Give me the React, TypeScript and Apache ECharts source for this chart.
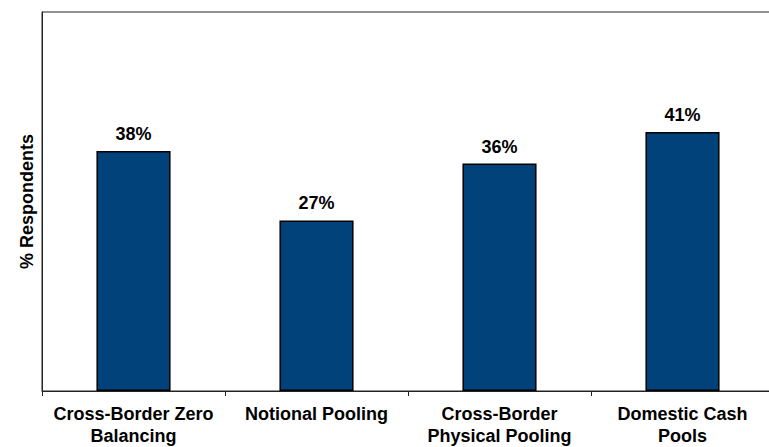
import React, { useEffect, useRef } from "react";
import * as echarts from "echarts";

const categories = [
  "Cross-Border Zero\nBalancing",
  "Notional Pooling",
  "Cross-Border\nPhysical Pooling",
  "Domestic Cash\nPools",
];
const respondents = [38, 27, 36, 41];
const yAxisTitle = "% Respondents";

const FONT = '"Liberation Sans", Arial, sans-serif';

export default function App() {
  const ref = useRef<HTMLDivElement>(null);

  useEffect(() => {
    if (!ref.current) return;
    const chart = echarts.init(ref.current, undefined, { renderer: "svg" });
    chart.setOption({
      animation: false,
      backgroundColor: "#ffffff",
      // the plot frame runs slightly past the visible right edge
      grid: {
        left: 42,
        top: 12,
        right: 6,
        bottom: 55,
        show: true,
        borderColor: "#222222",
        borderWidth: 1,
        backgroundColor: "transparent",
      },
      xAxis: {
        type: "category",
        data: categories,
        boundaryGap: true,
        axisLine: { show: true, lineStyle: { color: "#222222", width: 1 } },
        axisTick: { show: true, length: 5, alignWithLabel: false, lineStyle: { color: "#222222" } },
        axisLabel: {
          interval: 0,
          margin: 12,
          color: "#000000",
          fontFamily: FONT,
          fontWeight: "bold",
          fontSize: 18,
          lineHeight: 22,
          align: "center",
        },
      },
      yAxis: {
        type: "value",
        min: 0,
        max: 60,
        name: yAxisTitle,
        nameLocation: "middle",
        nameGap: 6,
        nameRotate: 90,
        nameTextStyle: {
          color: "#000000",
          fontFamily: FONT,
          fontWeight: "bold",
          fontSize: 18,
        },
        axisLine: { show: true, lineStyle: { color: "#222222", width: 1 } },
        axisTick: { show: false },
        axisLabel: { show: false },
        splitLine: { show: false },
      },
      series: [
        {
          type: "bar",
          data: respondents,
          barWidth: "40.5%",
          itemStyle: {
            color: "#02427A",
            borderColor: "#000000",
            borderWidth: 1.5,
          },
          label: {
            show: true,
            position: "top",
            distance: 8,
            formatter: "{c}%",
            color: "#000000",
            fontFamily: FONT,
            fontWeight: "bold",
            fontSize: 18,
          },
        },
      ],
    });
    return () => chart.dispose();
  }, []);

  return (
    <div
      style={{
        position: "absolute",
        left: 0,
        top: 0,
        width: 769,
        height: 447,
        overflow: "hidden",
        background: "#ffffff",
      }}
    >
      <div ref={ref} style={{ width: 780, height: 447 }} />
    </div>
  );
}
